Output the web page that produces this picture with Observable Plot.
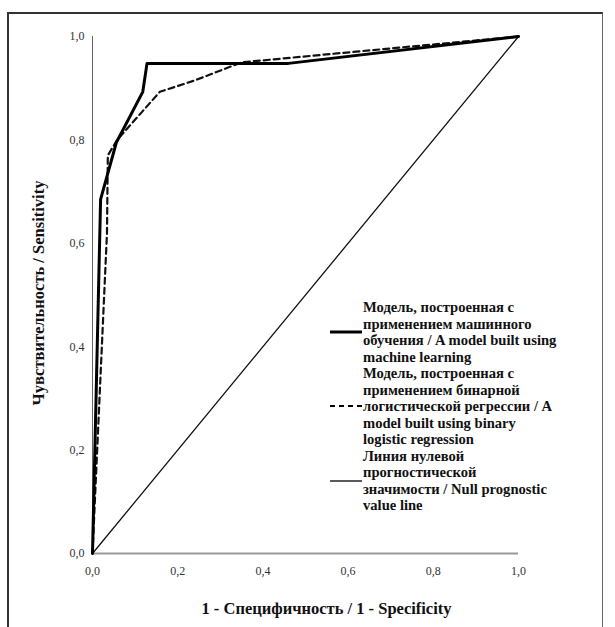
<!DOCTYPE html>
<html>
<head>
<meta charset="utf-8">
<script src="https://cdn.jsdelivr.net/npm/d3@7"></script>
<script src="https://cdn.jsdelivr.net/npm/@observablehq/plot@0.6"></script>
<style>
  html, body { margin: 0; padding: 0; background: #fff; }
  #wrap { position: relative; width: 615px; height: 627px; overflow: hidden; }
  #frame { position: absolute; left: 7px; top: 12px; width: 596px; height: 640px; border: 2px solid #333; border-right: 1.5px solid #666; box-sizing: border-box; pointer-events: none; }
  #legend { position: absolute; left: 330px; top: 299px; font-family: "Liberation Serif", serif; font-weight: bold; font-size: 14.6px; line-height: 16.5px; color: #111; }
  .item { display: flex; align-items: center; }
  .item svg { flex: none; width: 32px; height: 10px; margin-right: 1px; }
  .item div { white-space: pre; }
</style>
</head>
<body>
<div id="wrap">
  <div id="chart"></div>
  <div id="frame"></div>
  <div id="legend"></div>
</div>
<script>
// Series: ROC curves (x = 1 - specificity, y = sensitivity)
const mlX = [0, 0.019, 0.056, 0.118, 0.128, 0.46, 1.0];
const mlY = [0, 0.685, 0.795, 0.893, 0.948, 0.948, 1.0];

const lrX = [0, 0.034, 0.036, 0.058, 0.158, 0.24, 0.35, 1.0];
const lrY = [0, 0.62, 0.77, 0.80, 0.893, 0.915, 0.95, 1.0];

const nullX = [0, 1];
const nullY = [0, 1];

const xTicks = [0, 0.2, 0.4, 0.6, 0.8, 1.0];
const yTicks = [0, 0.2, 0.4, 0.6, 0.8, 1.0];

const xTitle = "1 - Специфичность / 1 - Specificity";
const yTitle = "Чувствительность / Sensitivity";

const legendLabels = [
  "Модель, построенная с\nприменением машинного\nобучения / A model built using\nmachine learning",
  "Модель, построенная с\nприменением бинарной\nлогистической регрессии / A\nmodel built using binary\nlogistic regression",
  "Линия нулевой\nпрогностической\nзначимости / Null prognostic\nvalue line"
];

const toPts = (xs, ys) => xs.map((x, i) => ({x, y: ys[i]}));
const fmt = d => d3.format(".1f")(d).replace(".", ",");

const chart = Plot.plot({
  width: 615,
  height: 627,
  marginLeft: 92,
  marginRight: 97,
  marginTop: 36,
  marginBottom: 74,
  style: { fontFamily: "Liberation Serif, serif", background: "transparent" },
  x: { domain: [0, 1], ticks: xTicks, tickFormat: fmt, tickSize: 0, tickPadding: 13, label: null },
  y: { domain: [0, 1], ticks: yTicks, tickFormat: fmt, tickSize: 0, tickPadding: 8, label: null },
  marks: [
    Plot.ruleX([0], { stroke: "#666", strokeWidth: 1 }),
    Plot.ruleY([0], { stroke: "#999", strokeWidth: 2 }),
    Plot.line(toPts(nullX, nullY), { x: "x", y: "y", stroke: "#111", strokeWidth: 1.3 }),
    Plot.line(toPts(lrX, lrY), { x: "x", y: "y", stroke: "#111", strokeWidth: 2.2, strokeDasharray: "6,4" }),
    Plot.line(toPts(mlX, mlY), { x: "x", y: "y", stroke: "#000", strokeWidth: 3 }),
    Plot.text([xTitle], { frameAnchor: "bottom", dx: 21, dy: 60, fontSize: 16.5, fontWeight: "bold", fill: "#111" }),
    Plot.text([yTitle], { frameAnchor: "left", textAnchor: "middle", dx: -54, dy: -2, rotate: -90, fontSize: 16.5, fontWeight: "bold", fill: "#111" })
  ]
});

d3.select(chart).selectAll("[aria-label='x-axis tick label'] text, [aria-label='y-axis tick label'] text")
  .attr("fill", "#333").style("font-size", "12px");
d3.select(chart).selectAll("[aria-label='x-axis tick label'], [aria-label='y-axis tick label']").attr("fill", "#333");

document.getElementById("chart").appendChild(chart);

// legend
const styles = [
  { w: 3, dash: null },
  { w: 2, dash: "5,4" },
  { w: 1.3, dash: null }
];
const leg = d3.select("#legend");
legendLabels.forEach((t, i) => {
  const it = leg.append("div").attr("class", "item");
  const s = it.append("svg").attr("viewBox", "0 0 32 10");
  s.append("line").attr("x1", 0).attr("x2", 32).attr("y1", 5).attr("y2", 5)
    .attr("stroke", "#000").attr("stroke-width", styles[i].w)
    .attr("stroke-dasharray", styles[i].dash);
  it.append("div").text(t);
});
</script>
</body>
</html>
